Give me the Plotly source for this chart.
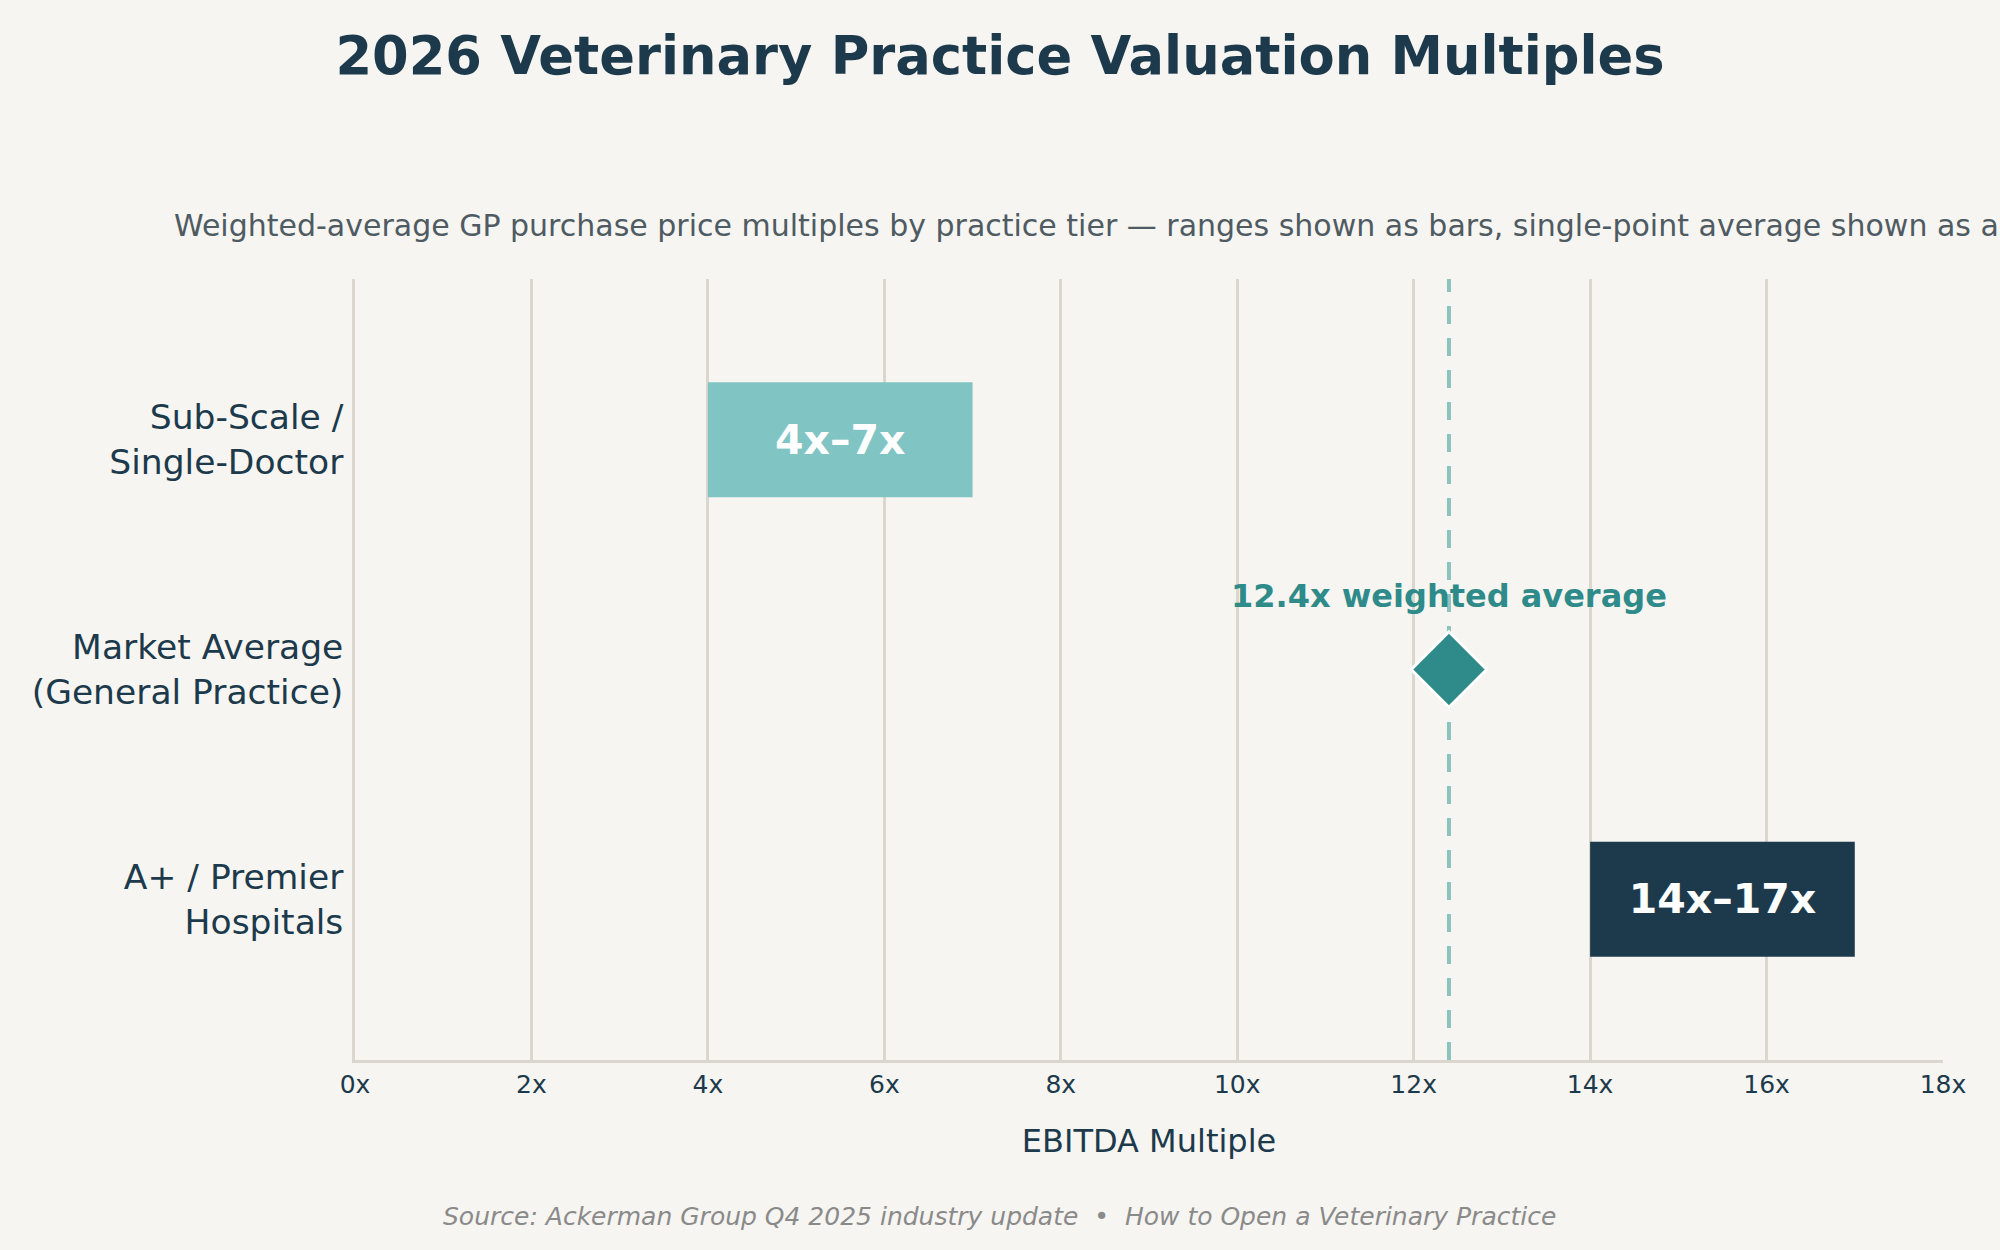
import plotly.graph_objects as go

# ---- data ----
tiers = ["Sub-Scale /<br>Single-Doctor", "Market Average<br>(General Practice)", "A+ / Premier<br>Hospitals"]
range_tiers = ["Sub-Scale /<br>Single-Doctor", "A+ / Premier<br>Hospitals"]
range_low = [4, 14]
range_high = [7, 17]
range_colors = ["#80C4C3", "#1C3A4C"]
avg_tier = "Market Average<br>(General Practice)"
avg_value = 12.4
x_ticks = [0, 2, 4, 6, 8, 10, 12, 14, 16, 18]
x_tick_labels = [f"{v}x" for v in x_ticks]

FONT = "DejaVu Sans"
NAVY = "#1C3A4B"
TEAL = "#2E8B89"
BG = "#F6F5F1"
GRID = "#DCD7CE"

fig = go.Figure()

fig.add_trace(go.Bar(
    y=range_tiers,
    x=[h - l for l, h in zip(range_low, range_high)],
    base=range_low,
    orientation="h",
    width=0.5,
    marker=dict(color=range_colors, line=dict(width=0)),
    text=[f"<b>{l}x–{h}x</b>" for l, h in zip(range_low, range_high)],
    textposition="inside",
    insidetextanchor="middle",
    constraintext="none",
    textfont=dict(family=FONT, size=41, color="white"),
    hoverinfo="skip",
    showlegend=False,
))

fig.add_trace(go.Scatter(
    x=[avg_value], y=[avg_tier],
    mode="markers",
    marker=dict(symbol="diamond", size=58, color=TEAL, line=dict(color="white", width=3)),
    showlegend=False,
    hoverinfo="skip",
))

fig.add_shape(type="line", xref="x", yref="paper", x0=avg_value, x1=avg_value, y0=0, y1=1,
              line=dict(color="#8CC3BF", width=4, dash="18px,14px"), layer="below")

fig.add_annotation(x=avg_value, y=avg_tier, xref="x", yref="y", yshift=74,
                   text=f"<b>{avg_value}x weighted average</b>", showarrow=False,
                   font=dict(family=FONT, size=32, color=TEAL), xanchor="center", yanchor="middle")

fig.add_annotation(xref="paper", yref="paper", x=-0.1152, y=1.068, xanchor="left", yanchor="middle",
                   text="Weighted-average GP purchase price multiples by practice tier — ranges shown as bars, single-point average shown as a diamond",
                   showarrow=False, font=dict(family=FONT, size=30, color="#4F5B62"))

fig.add_annotation(xref="paper", yref="paper", x=0.406, y=-0.201, xanchor="center", yanchor="middle",
                   text="<i>Source: Ackerman Group Q4 2025 industry update  •  How to Open a Veterinary Practice</i>",
                   showarrow=False, font=dict(family=FONT, size=25, color="#8A8A8A"))

fig.update_layout(
    width=2000, height=1250,
    paper_bgcolor=BG, plot_bgcolor=BG,
    margin=dict(l=355, r=57, t=279, b=190),
    title=dict(text="<b>2026 Veterinary Practice Valuation Multiples</b>", x=0.5, xanchor="center",
               y=1 - 56 / 1250, yanchor="middle", yref="container",
               font=dict(family=FONT, size=52.7, color=NAVY)),
    xaxis=dict(range=[0, 18], tickvals=x_ticks, ticktext=x_tick_labels,
               showgrid=True, gridcolor=GRID, gridwidth=2.5, zeroline=False,
               showline=True, linecolor=GRID, linewidth=2.5, ticks="",
               tickfont=dict(family=FONT, size=25, color=NAVY),
               title=dict(text="EBITDA Multiple", font=dict(family=FONT, size=32, color=NAVY), standoff=32)),
    yaxis=dict(categoryorder="array", categoryarray=tiers, type="category",
               range=[2.7, -0.7], showgrid=False, zeroline=False,
               showline=True, linecolor=GRID, linewidth=2.5, ticks="",
               ticklabelstandoff=2,
               tickfont=dict(family=FONT, size=34.5, color=NAVY)),
    bargap=0.5,
)

fig.write_html("out.html")
